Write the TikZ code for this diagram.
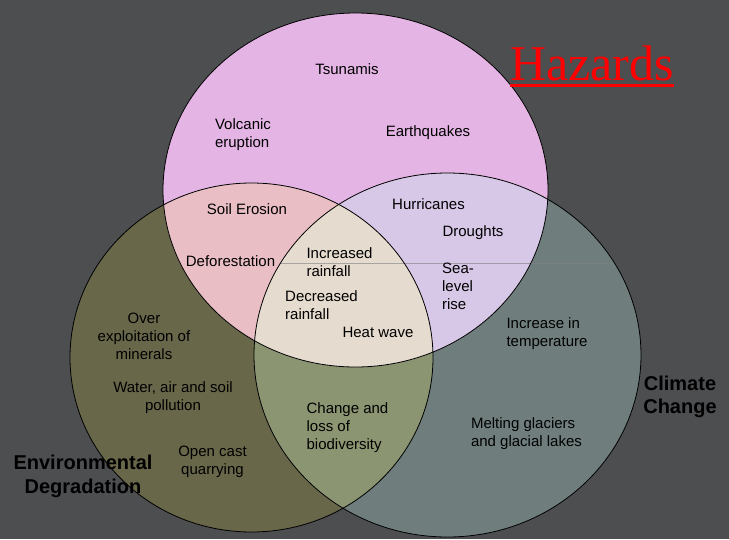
\documentclass[tikz,border=0pt]{standalone}
\usepackage{fontspec}
\setmainfont{Liberation Sans}
\newfontfamily\hazfont{Liberation Serif}
\definecolor{slidebg}{RGB}{77,78,80}
\definecolor{hazpink}{RGB}{228,181,228}
\definecolor{envolive}{RGB}{104,103,74}
\definecolor{climgrey}{RGB}{111,126,125}
\definecolor{hazenv}{RGB}{233,190,196}
\definecolor{hazclim}{RGB}{214,200,230}
\definecolor{envclim}{RGB}{140,149,114}
\definecolor{allthree}{RGB}{229,219,206}
\tikzset{
  item/.style={inner sep=0pt, font=\fontsize{15}{18}\selectfont},
  setname/.style={inner sep=0pt, align=center, font=\bfseries\fontsize{20}{23.5}\selectfont},
  hazsize/.style={x radius=192.5pt, y radius=177pt},
  envsize/.style={x radius=181.5pt, y radius=174.5pt},
  climsize/.style={x radius=193.5pt, y radius=182pt},
}
\begin{document}
\begin{tikzpicture}[x=1pt, y=-1pt]
    \useasboundingbox (0,0) rectangle (729,539);
    \fill[slidebg] (0,0) rectangle (729,539);
    \coordinate (haz) at (355.5,190);
    \coordinate (env) at (251.5,357.5);
    \coordinate (clim) at (447.5,355);
    % the three sets
    \fill[envolive] (env) ellipse [envsize];
    \fill[climgrey] (clim) ellipse [climsize];
    \fill[hazpink] (haz) ellipse [hazsize];
    % overlaps
    \begin{scope}
      \clip (env) ellipse [envsize];
      \fill[envclim] (clim) ellipse [climsize];
    \end{scope}
    \begin{scope}
      \clip (haz) ellipse [hazsize];
      \fill[hazenv] (env) ellipse [envsize];
      \fill[hazclim] (clim) ellipse [climsize];
      \clip (env) ellipse [envsize];
      \fill[allthree] (clim) ellipse [climsize];
    \end{scope}
    \begin{scope}
      \clip (clim) ellipse [climsize];
      \draw[gray, opacity=.6, line width=.8pt] (250,263) -- (650,263);
    \end{scope}
    \draw[line width=.8pt] (env) ellipse [envsize];
    \draw[line width=.8pt] (clim) ellipse [climsize];
    \draw[line width=.8pt] (haz) ellipse [hazsize];
    % labels
    \node[item] (tsunami) at (347,69) {Tsunamis};
    \node[item, align=left] (volcano) at (243,135) {Volcanic\\eruption};
    \node[item] (quake) at (428,133) {Earthquakes};
    \node[item] (soil) at (247,209) {Soil Erosion};
    \node[item] (forest) at (230.5,261) {Deforestation};
    \node[item, align=left] (morerain) at (339.5,262.5) {Increased\\rainfall};
    \node[item, align=left] (lessrain) at (321.5,305.5) {Decreased\\rainfall};
    \node[item] (heat) at (378,332) {Heat wave};
    \node[item] (hurricane) at (428.5,204) {Hurricanes};
    \node[item] (drought) at (473,233) {Droughts};
    \node[item, align=left] (sealevel) at (458,286) {Sea-\\level\\rise};
    \node[item, align=center] (mining) at (144,336) {Over\\exploitation of\\minerals};
    \node[item, align=center] (pollution) at (173,398) {Water, air and soil\\pollution};
    \node[item, align=center] (quarry) at (212.5,462) {Open cast\\quarrying};
    \node[item, align=left] (biodiv) at (347.5,428) {Change and\\loss of\\biodiversity};
    \node[item, align=left] (warming) at (547,334) {Increase in\\temperature};
    \node[item, align=left] (glacier) at (526.5,434) {Melting glaciers\\and glacial lakes};
    \node[setname] (envname) at (83,476.5) {Environmental\\Degradation};
    \node[setname] (climname) at (680,397) {Climate\\Change};
    \node[anchor=base west, inner sep=0pt, text=red, font=\hazfont\fontsize{50}{50}\selectfont] (hazname) at (510,80) {Hazards};
    \draw[red, line width=3pt] ([yshift=-5.5pt]hazname.base west) -- ([yshift=-5.5pt]hazname.base east);
\end{tikzpicture}
\end{document}
